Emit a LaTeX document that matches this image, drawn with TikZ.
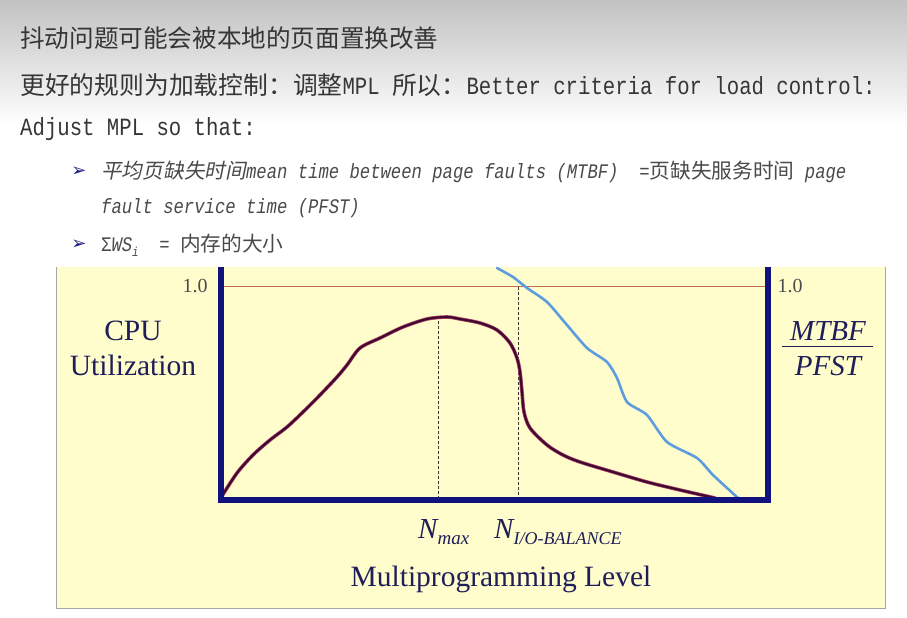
\documentclass[tikz,border=0pt]{standalone}
\usepackage{fontspec}
\setmainfont{Liberation Serif}
\newfontfamily\cjk{Noto Sans CJK SC}
\newfontfamily\cjki{Noto Sans CJK SC}[FakeSlant=0.2]
\newfontfamily\mono{Liberation Mono}[FakeStretch=0.833]
\newfontfamily\symf{DejaVu Sans}
\definecolor{txtgray}{HTML}{363636}
\definecolor{bultxt}{HTML}{4A4A4A}
\definecolor{panel}{HTML}{FFFDCC}
\definecolor{axisblue}{HTML}{12127E}
\definecolor{chartnavy}{HTML}{1E1E5A}
\definecolor{redline}{HTML}{C06A50}
\definecolor{curvedark}{HTML}{3E0A30}
\definecolor{curveedge}{HTML}{B0406A}
\definecolor{curveblue}{HTML}{5E9CE0}
\definecolor{bulletblue}{HTML}{1A1A80}
\tikzset{
  toptext/.style={anchor=west, inner sep=0pt, text=txtgray},
  bultext/.style={anchor=west, inner sep=0pt, text=bultxt},
  bulmark/.style={inner sep=0pt, text=bulletblue, font=\symf\fontsize{18}{20}\selectfont},
  chartlbl/.style={anchor=base, inner sep=0pt, text=chartnavy, font=\fontsize{29.5}{32}\selectfont},
  onelbl/.style={anchor=base, inner sep=0pt, text=black!70, font=\fontsize{20}{22}\selectfont},
  axisline/.style={draw=axisblue, line width=6pt, line join=miter},
  guide/.style={draw=black!80, line width=0.8pt, dash pattern=on 3pt off 2pt},
}
\begin{document}
\begin{tikzpicture}[x=1pt, y=-1pt]
\useasboundingbox (0,0) rectangle (907,618);
% background
\fill[white] (0,0) rectangle (907,618);
\shade[top color=black!24, bottom color=white] (0,0) rectangle (907,125);
% top texts
\node[toptext] (title) at (20,38) {\cjk\fontsize{24.6}{28}\selectfont 抖动问题可能会被本地的页面置换改善};
\node[toptext] (line2) at (20,85) {\fontsize{24.8}{28}\selectfont\cjk 更好的规则为加载控制：调整\mono MPL \cjk 所以：\mono Better criteria for load control:};
\node[toptext] (line3) at (20,129) {\mono\fontsize{24.8}{28}\selectfont Adjust MPL so that:};
% bullets
\node[bulmark] (b1) at (79,172) {➢};
\node[bultext] (b1t) at (101,172) {\fontsize{20.7}{24}\selectfont\cjki 平均页缺失时间\mono\itshape mean time between page faults (MTBF)\upshape\ \ =\cjk 页缺失服务时间\mono\itshape\ page};
\node[bultext] (b1u) at (101,208) {\fontsize{20.7}{24}\selectfont\mono\itshape fault service time (PFST)};
\node[bulmark] (b2) at (79,245) {➢};
\node[bultext] (b2t) at (101,245) {\fontsize{20.7}{24}\selectfont\mono Σ\itshape WS\raisebox{-5pt}{\fontsize{13}{14}\selectfont i}\upshape\ \ = \cjk 内存的大小};
% chart panel
\fill[panel] (56,267) rectangle (885,608);
\draw[black!35, line width=1pt] (56,267) -- (56,608) -- (885,608) -- (885,267);
% 1.0 line
\draw[redline, line width=1pt] (224,286) -- (766,286);
% dashed guides
\draw[guide] (438,321) -- (438,497);
\draw[guide] (518,287) -- (518,497);
% blue curve
\draw[curveblue, line width=2.6pt, line cap=round, line join=round] plot[smooth, tension=0.4] coordinates {
 (497,268) (513,277) (527,288) (547,302) (567,325) (587,348) (607,362) (617,378) (627,402) (647,415) (667,442) (697,458) (713,475) (738,498)};
% purple curve
\def\purplepath{plot[smooth, tension=0.5] coordinates {
 (222,496) (237,473) (253,455) (270,440) (287,427) (303,412) (320,395) (337,377) (347,365) (360,348) (380,338) (403,327) (427,319) (447,317) (460,319) (480,323) (497,330) (510,343) (517,358) (520,372) (522,392) (524,412) (530,428) (547,445) (563,455) (580,462) (613,472) (647,482) (680,490) (715,498)}}
\draw[curveedge, line width=3.6pt, line cap=round, line join=round] \purplepath;
\draw[curvedark, line width=2.2pt, line cap=round, line join=round] \purplepath;
% axes
\draw[axisline] (221,267) -- (221,500) -- (768,500) -- (768,267);
% labels
\node[onelbl] (oneL) at (195,292) {1.0};
\node[onelbl] (oneR) at (790,292) {1.0};
\node[chartlbl] (cpu) at (133,340) {CPU};
\node[chartlbl] (util) at (133,375) {Utilization};
\node[chartlbl, font=\fontsize{29}{32}\selectfont\itshape] (mtbf) at (828,340) {MTBF};
\node[chartlbl, font=\fontsize{29}{32}\selectfont\itshape] (pfst) at (828,375) {PFST};
\draw[chartnavy, line width=1pt] (782,346) -- (873,346);
\node[chartlbl, anchor=base west, font=\fontsize{29}{32}\selectfont\itshape] (nmax) at (418,538) {N\raisebox{-6pt}{\fontsize{19}{20}\selectfont max}};
\node[chartlbl, anchor=base west, font=\fontsize{29}{32}\selectfont\itshape] (nio) at (494,538) {N\raisebox{-6pt}{\fontsize{18}{20}\selectfont I/O-BALANCE}};
\node[chartlbl] (mpl) at (501,586) {Multiprogramming Level};
\end{tikzpicture}
\end{document}
